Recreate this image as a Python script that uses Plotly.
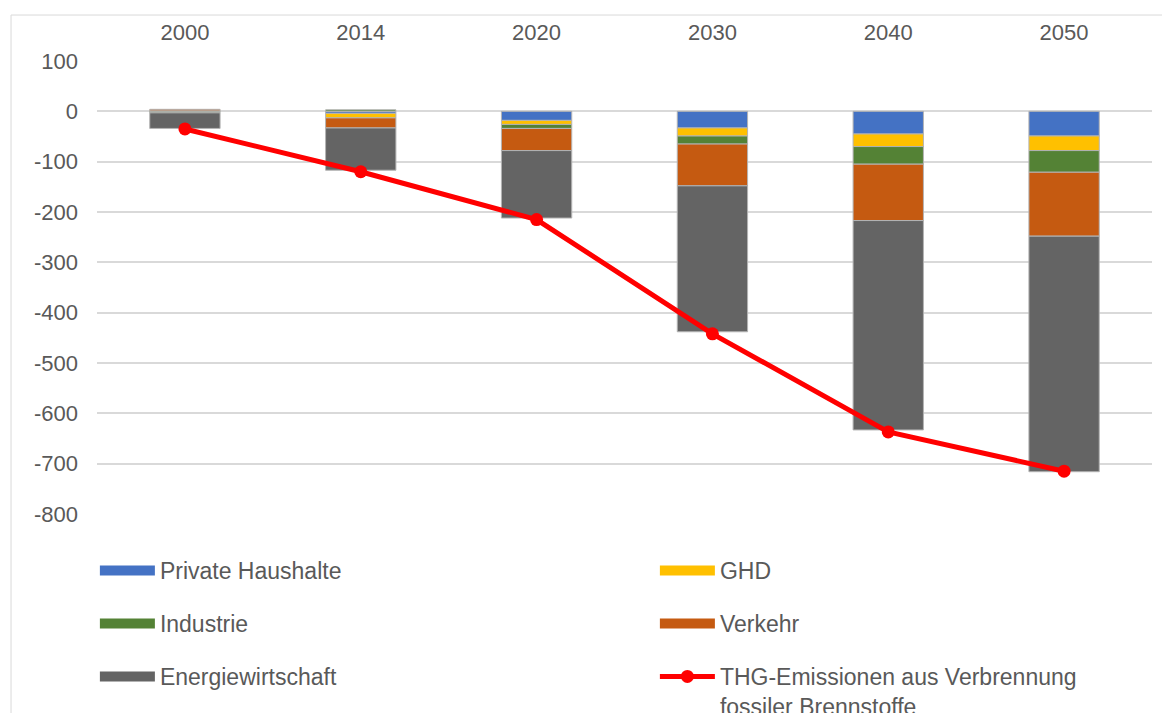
import plotly.graph_objects as go

# Kategorien und Werte (Mio. t CO2-Äq.)
jahre = ['2000', '2014', '2020', '2030', '2040', '2050']
private_haushalte = [0, -4, -18, -33, -45, -49]
ghd = [1, -9, -8, -16, -25, -29]
industrie = [-3, 3, -8, -16, -35, -43]
verkehr = [3, -20, -44, -83, -112, -127]
energiewirtschaft = [-31, -84, -134, -290, -416, -468]
thg_emissionen = [-35, -120, -215, -442, -637, -715]

y_ticks = [100, 0, -100, -200, -300, -400, -500, -600, -700, -800]

reihen = [
    ('Private Haushalte', private_haushalte, '#4472C4', 'legend'),
    ('GHD', ghd, '#FFC000', 'legend'),
    ('Industrie', industrie, '#548235', 'legend2'),
    ('Verkehr', verkehr, '#C55A11', 'legend2'),
    ('Energiewirtschaft', energiewirtschaft, '#646464', 'legend3'),
]

font = dict(family='Liberation Sans, Arial', size=22, color='#595959')
legend_font = dict(family='Liberation Sans, Arial', size=23, color='#595959')

fig = go.Figure()

for name, werte, farbe, leg in reihen:
    fig.add_bar(x=jahre, y=werte, name=name, marker=dict(color=farbe, line=dict(color='#b4b4b4', width=1)),
                showlegend=False, hovertemplate='%{x}: %{y}<extra>' + name + '</extra>')

# Legendeneinträge als breite Balken-Symbole
for name, werte, farbe, leg in reihen:
    fig.add_scatter(x=[None], y=[None], mode='lines', name=name, legend=leg,
                    line=dict(color=farbe, width=13), hoverinfo='skip')

fig.add_scatter(x=jahre, y=thg_emissionen, mode='lines+markers',
                name='THG-Emissionen aus Verbrennung<br>fossiler Brennstoffe', legend='legend3',
                line=dict(color='#FF0000', width=5), marker=dict(color='#FF0000', size=13))

# x < 0 damit die Legende die volle Breite nutzen darf (zwei Spalten)
leg_common = dict(orientation='h', entrywidth=490, entrywidthmode='pixels', itemwidth=55,
                  font=legend_font, bgcolor='rgba(0,0,0,0)', valign='top', xanchor='left', yanchor='top',
                  itemclick=False, itemdoubleclick=False)

fig.update_layout(
    width=1170, height=713, autosize=False,
    barmode='relative', bargap=0.6,
    plot_bgcolor='white', paper_bgcolor='white',
    font=font,
    margin=dict(l=89, r=26, t=53, b=207, autoexpand=False),
    xaxis=dict(type='category', side='top', showgrid=False, showline=False, ticks='',
               ticklabelstandoff=16, tickfont=font, automargin=False),
    yaxis=dict(range=[-800, 100], tickvals=y_ticks, ticktext=[str(v) for v in y_ticks],
               showgrid=True, gridcolor='#d9d9d9', gridwidth=1.5,
               zeroline=False, showline=False, ticks='', ticklabelstandoff=18, tickfont=font,
               automargin=False),
    legend=dict(x=-0.002, y=-0.0773, **leg_common),
    legend2=dict(x=-0.002, y=-0.1943, **leg_common),
    legend3=dict(x=-0.002, y=-0.3113, **leg_common),
    shapes=[dict(type='rect', xref='paper', yref='paper', x0=-0.0815, x1=1.015, y0=-0.46, y1=1.1015,
                 line=dict(color='#d9d9d9', width=1), layer='below')],
    showlegend=True,
)

fig.write_html('out.html')
